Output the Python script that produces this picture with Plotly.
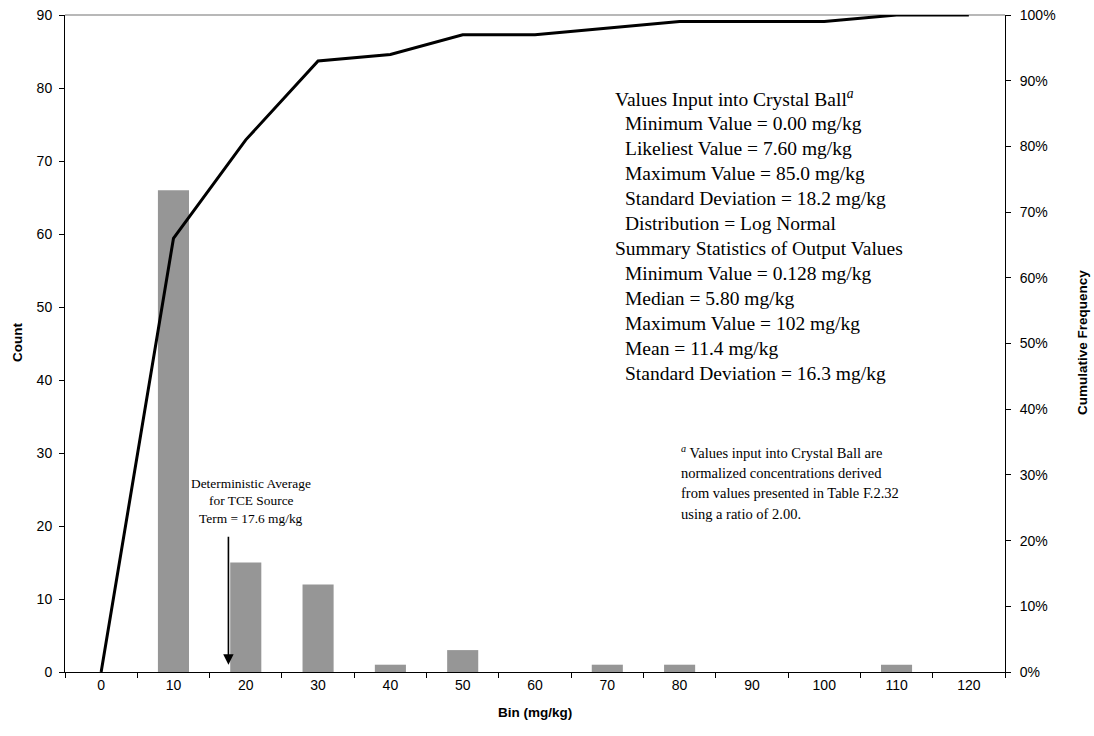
import plotly.graph_objects as go

# Histogram bins (mg/kg) and counts of simulated output values
bins = ["0", "10", "20", "30", "40", "50", "60", "70", "80", "90", "100", "110", "120"]
counts = [0, 66, 15, 12, 1, 3, 0, 1, 1, 0, 0, 1, 0]
# Cumulative frequency (%) at each bin
cumulative_pct = [0, 66, 81, 93, 94, 97, 97, 98, 99, 99, 99, 100, 100]

count_ticks = [0, 10, 20, 30, 40, 50, 60, 70, 80, 90]
pct_ticks = [0, 10, 20, 30, 40, 50, 60, 70, 80, 90, 100]

deterministic_avg = 17.6  # mg/kg, TCE source term
bin_width = 10

input_lines = [
    "Values Input into Crystal Ball<sup><i>a</i></sup>",
    "  Minimum Value = 0.00 mg/kg",
    "  Likeliest Value = 7.60 mg/kg",
    "  Maximum Value = 85.0 mg/kg",
    "  Standard Deviation = 18.2 mg/kg",
    "  Distribution = Log Normal",
    "Summary Statistics of Output Values",
    "  Minimum Value = 0.128 mg/kg",
    "  Median = 5.80 mg/kg",
    "  Maximum Value = 102 mg/kg",
    "  Mean = 11.4 mg/kg",
    "  Standard Deviation = 16.3 mg/kg",
]
footnote_lines = [
    "<sup><i>a</i></sup> Values input into Crystal Ball are",
    "normalized concentrations derived",
    "from values presented in Table F.2.32",
    "using a ratio of 2.00.",
]
arrow_label_lines = [
    "Deterministic Average",
    "for TCE Source",
    "Term = 17.6 mg/kg",
]

W, H = 1094, 736
ML, MR, MT, MB = 65, 89, 15, 64
PW, PH = W - ML - MR, H - MT - MB

SANS = "Liberation Sans, Arial, sans-serif"
SERIF = "Liberation Serif, Times New Roman, serif"


def px_x(x):
    return (x - ML) / PW


def px_y(y):
    return (H - MB - y) / PH


fig = go.Figure()

fig.add_trace(go.Bar(
    x=bins, y=counts,
    marker=dict(color="#969696", line=dict(width=0)),
    yaxis="y", showlegend=False, hoverinfo="x+y",
))

fig.add_trace(go.Scatter(
    x=bins, y=[v / 100 for v in cumulative_pct],
    mode="lines", line=dict(color="black", width=3),
    yaxis="y2", showlegend=False,
))

annotations = []

# Statistics block
for i, line in enumerate(input_lines):
    indent = line.startswith("  ")
    annotations.append(dict(
        text=line.strip(), xref="paper", yref="paper",
        x=px_x(623 if indent else 613), y=px_y(98 + i * 25),
        xanchor="left", yanchor="middle", showarrow=False,
        font=dict(family=SERIF, size=19.5, color="black"),
    ))

# Footnote
for i, line in enumerate(footnote_lines):
    annotations.append(dict(
        text=line, xref="paper", yref="paper",
        x=px_x(679), y=px_y(452 + i * 20.5),
        xanchor="left", yanchor="middle", showarrow=False,
        font=dict(family=SERIF, size=14.5, color="black"),
    ))

# Label above the arrow
for i, line in enumerate(arrow_label_lines):
    annotations.append(dict(
        text=line, xref="paper", yref="paper",
        x=px_x(251), y=px_y(483 + i * 17.5),
        xanchor="center", yanchor="middle", showarrow=False,
        font=dict(family=SERIF, size=13.4, color="black"),
    ))

# Arrow pointing at the deterministic average on the bin axis
arrow_x = deterministic_avg / bin_width
annotations.append(dict(
    text=" ", xref="x", yref="y", axref="x", ayref="y",
    x=arrow_x, y=1.0, ax=arrow_x, ay=18.8,
    showarrow=True, arrowhead=2, arrowsize=1.3, arrowwidth=1.6,
    arrowcolor="black", font=dict(size=1),
))

# Axis titles
annotations += [
    dict(text="<b>Bin (mg/kg)</b>", xref="paper", yref="paper",
         x=px_x(535), y=px_y(712), xanchor="center", yanchor="middle",
         showarrow=False, font=dict(family=SANS, size=13.5, color="black")),
    dict(text="<b>Count</b>", xref="paper", yref="paper",
         x=px_x(17), y=px_y(343), xanchor="center", yanchor="middle",
         textangle=-90, showarrow=False,
         font=dict(family=SANS, size=13.5, color="black")),
    dict(text="<b>Cumulative Frequency</b>", xref="paper", yref="paper",
         x=px_x(1082), y=px_y(343), xanchor="center", yanchor="middle",
         textangle=-90, showarrow=False,
         font=dict(family=SANS, size=13.5, color="black")),
]

fig.update_layout(
    width=W, height=H,
    margin=dict(l=ML, r=MR, t=MT, b=MB, pad=0),
    paper_bgcolor="white", plot_bgcolor="white",
    bargap=0.57,
    font=dict(family=SANS, size=14, color="black"),
    xaxis=dict(
        type="category", range=[-0.5, len(bins) - 0.5],
        tickson="boundaries", ticks="outside", ticklen=5, tickwidth=1,
        tickcolor="black", showline=True, linecolor="black", linewidth=1,
        showgrid=False, zeroline=False, automargin=False,
        tickfont=dict(family=SANS, size=14, color="black"),
    ),
    yaxis=dict(
        range=[0, 90], tickvals=count_ticks, ticks="outside", ticklen=5,
        tickcolor="black", showline=True, linecolor="black", linewidth=1,
        showgrid=False, zeroline=False, automargin=False,
        ticklabelstandoff=4,
        tickfont=dict(family=SANS, size=14, color="black"),
    ),
    yaxis2=dict(
        overlaying="y", side="right", range=[0, 1],
        tickvals=[p / 100 for p in pct_ticks],
        ticktext=[f"{p}%" for p in pct_ticks],
        ticks="outside", ticklen=5, tickcolor="black",
        showline=True, linecolor="black", linewidth=1,
        showgrid=False, zeroline=False, automargin=False,
        ticklabelstandoff=6,
        tickfont=dict(family=SANS, size=14, color="black"),
    ),
    annotations=annotations,
    shapes=[dict(type="line", xref="paper", yref="paper",
                 x0=0, x1=1, y0=1, y1=1,
                 line=dict(color="#a0a0a0", width=1.5), layer="below")],
)

fig.write_html("out.html")
